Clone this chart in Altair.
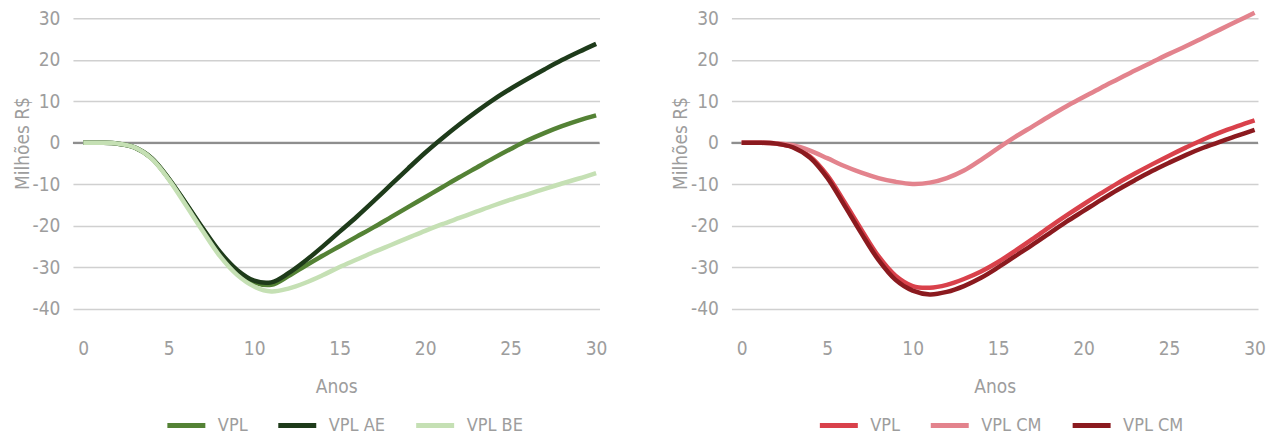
import altair as alt
import pandas as pd

years = list(range(31))

# Left panel (green)
vpl_green = [0, 0, -0.2, -1.1, -3.7, -8.6, -14.6, -20.8, -26.6, -31.0, -33.6,
             -34.2, -32.1, -29.6, -27.2, -24.9, -22.6, -20.3, -17.9, -15.5, -13.1,
             -10.7, -8.3, -6.0, -3.7, -1.5, 0.6, 2.4, 4.0, 5.4, 6.6]
vpl_ae = [0, 0, -0.2, -1.1, -3.7, -8.6, -14.5, -20.6, -26.3, -30.6, -33.2,
          -33.6, -31.4, -28.4, -25.0, -21.4, -17.8, -14.0, -10.1, -6.2, -2.4,
          1.1, 4.4, 7.5, 10.4, 13.0, 15.4, 17.7, 19.9, 21.9, 23.8]
vpl_be = [0, 0, -0.2, -1.1, -3.8, -8.8, -15.0, -21.3, -27.3, -31.8, -34.6,
          -35.8, -35.1, -33.7, -31.9, -29.9, -28.1, -26.3, -24.6, -22.9, -21.2,
          -19.6, -18.1, -16.6, -15.1, -13.7, -12.4, -11.1, -9.8, -8.6, -7.3]

# Right panel (red)
vpl_red = [0, 0, -0.2, -1.0, -3.3, -7.8, -14.2, -20.9, -27.3, -32.0, -34.5,
           -34.9, -34.2, -32.8, -31.0, -28.7, -26.0, -23.2, -20.3, -17.5, -14.8,
           -12.2, -9.7, -7.4, -5.2, -3.1, -1.1, 0.8, 2.5, 4.0, 5.4]
vpl_cm_light = [0, 0, -0.1, -0.6, -1.9, -3.7, -5.6, -7.2, -8.5, -9.4, -9.9,
                -9.6, -8.5, -6.7, -4.1, -1.3, 1.4, 3.9, 6.4, 8.8, 11.0,
                13.2, 15.3, 17.4, 19.4, 21.4, 23.3, 25.3, 27.3, 29.3, 31.3]
vpl_cm_dark = [0, 0, -0.2, -1.1, -3.6, -8.4, -15.0, -21.8, -28.2, -33.0, -35.6,
               -36.5, -35.9, -34.5, -32.5, -30.0, -27.3, -24.6, -21.8, -19.0, -16.4,
               -13.8, -11.3, -9.0, -6.8, -4.8, -2.9, -1.2, 0.3, 1.7, 3.1]

left_series = ["VPL", "VPL AE", "VPL BE"]
left_colors = ["#548235", "#1E3B1A", "#C5E0B4"]
right_series = ["VPL", "VPL CM", "VPL CM (2)"]
right_colors = ["#D9414B", "#E3838D", "#8B1A1F"]

y_ticks = [-40, -30, -20, -10, 0, 10, 20, 30]
x_ticks = [0, 5, 10, 15, 20, 25, 30]

FONT = "DejaVu Sans Condensed, Roboto, sans-serif"
GRAY = "#9d9d9d"


def long_df(series, values):
    rows = []
    for name, vals in zip(series, values):
        for yr, v in zip(years, vals):
            rows.append({"ano": yr, "valor": v, "serie": name})
    return pd.DataFrame(rows)


def panel(df, series, colors, legend_x):
    xs = alt.Scale(domain=[-0.6, 30.2], nice=False, zero=False)
    ys = alt.Scale(domain=[-40, 30], nice=False)
    y_axis = alt.Axis(values=y_ticks, title="Milhões R$", grid=True,
                      domain=False, ticks=False, tickSize=0, labelPadding=13,
                      titlePadding=0, titleY=125, labelExpr="'' + datum.value")
    zero = alt.Chart(pd.DataFrame({"v": [0]})).mark_rule(
        color="#8e8e8e", strokeWidth=2.2
    ).encode(y=alt.Y("v:Q", scale=ys, axis=y_axis))
    lines = alt.Chart(df).mark_line(
        strokeWidth=4.5, interpolate="catmull-rom", strokeCap="butt"
    ).encode(
        x=alt.X("ano:Q", scale=xs,
                axis=alt.Axis(values=x_ticks, title="Anos", grid=False, domain=False,
                              ticks=False, tickSize=0, labelPadding=31,
                              titlePadding=19)),
        y=alt.Y("valor:Q", scale=ys, axis=y_axis),
        color=alt.Color("serie:N", sort=series,
                        scale=alt.Scale(domain=series, range=colors),
                        legend=alt.Legend(title=None, orient="none", direction="horizontal",
                                          legendX=legend_x, legendY=386,
                                          symbolType="stroke", symbolSize=1444,
                                          symbolStrokeWidth=5, labelOffset=10,
                                          columnPadding=20,
                                          labelExpr="replace(datum.label, ' (2)', '')")),
        order=alt.Order("ano:Q"),
    )
    return alt.layer(zero, lines).properties(width=527, height=291)


left = panel(long_df(left_series, [vpl_green, vpl_ae, vpl_be]), left_series, left_colors, 92)
right = panel(long_df(right_series, [vpl_red, vpl_cm_light, vpl_cm_dark]), right_series, right_colors, 86)

chart = alt.hconcat(left, right, spacing=64).resolve_scale(
    color="independent"
).resolve_legend(color="independent").properties(
    padding={"left": 5, "top": -5, "right": 0, "bottom": 0}
).configure_view(stroke=None).configure_axis(
    labelFont=FONT, titleFont=FONT, labelColor=GRAY, titleColor=GRAY,
    labelFontSize=19, titleFontSize=19, labelFontWeight="normal", titleFontWeight="normal",
    gridColor="#d0d0d0", gridWidth=1.5
).configure_legend(
    labelFont=FONT, labelFontSize=18, labelColor=GRAY
)

chart.save("out.html", embed_options={"renderer": "svg", "actions": False})
